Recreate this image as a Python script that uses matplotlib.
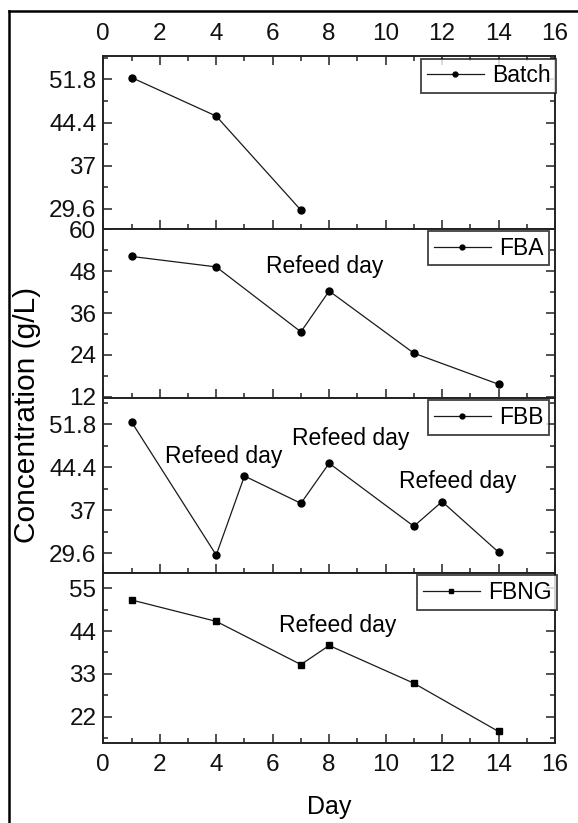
import matplotlib
matplotlib.use('Agg')
import matplotlib.pyplot as plt
from matplotlib.lines import Line2D
from matplotlib.ticker import MultipleLocator, FixedLocator

plt.rcParams['font.family'] = ['Liberation Sans', 'DejaVu Sans']

# Концентрация по дням для каждого режима
days_batch = [1, 4, 7]
conc_batch = [52.1, 45.5, 29.4]

days_fba = [1, 4, 7, 8, 11, 14]
conc_fba = [52.2, 49.2, 30.6, 42.3, 24.5, 15.6]

days_fbb = [1, 4, 5, 7, 8, 11, 12, 14]
conc_fbb = [52.2, 29.3, 42.9, 38.2, 45.1, 34.25, 38.5, 29.8]

days_fbng = [1, 4, 7, 8, 11, 14]
conc_fbng = [52.0, 46.5, 35.4, 40.3, 30.6, 18.2]

# Деления оси Y для каждой панели
yticks_batch = [29.6, 37, 44.4, 51.8]
yticks_fba = [12, 24, 36, 48, 60]
yticks_fbb = [29.6, 37, 44.4, 51.8]
yticks_fbng = [22, 33, 44, 55]

labels = ['Batch', 'FBA', 'FBB', 'FBNG']

# Подписи дней дозагрузки (день, концентрация)
refeed_fba = [(7.84, 49.2)]
refeed_fbb = [(4.25, 46.2), (8.76, 49.4), (12.55, 41.9)]
refeed_fbng = [(8.3, 45.5)]

W, H = 578, 823
FS = 16.5      # подписи и легенда
FS_TICK = 17.5


def px_to_fig(x0, y_top, x1, y_bot):
    """Перевод пикселей в доли фигуры для add_axes"""
    return [x0 / W, 1 - y_bot / H, (x1 - x0) / W, (y_bot - y_top) / H]


def style_axis(ax, yticks, ylim, top_labels=False):
    ax.set_xlim(0, 16)
    ax.set_ylim(*ylim)
    ax.xaxis.set_major_locator(MultipleLocator(2))
    ax.xaxis.set_minor_locator(MultipleLocator(1))
    ax.yaxis.set_major_locator(FixedLocator(yticks))
    step = (yticks[1] - yticks[0]) / 2
    minors = [yticks[0] + step * k for k in range(-4, 2 * len(yticks) + 4)]
    ax.yaxis.set_minor_locator(FixedLocator(minors))
    ax.tick_params(which='both', direction='in', color='#222222', width=1.1,
                   left=True, right=True, bottom=True, top=top_labels,
                   labelbottom=False, labeltop=top_labels, labelsize=FS_TICK,
                   labelcolor='#111111')
    ax.tick_params(axis='y', pad=5)
    ax.tick_params(axis='x', pad=8)
    ax.tick_params(which='major', length=6.5)
    ax.tick_params(which='minor', length=3.5)
    ax.set_yticklabels([('%g' % t) for t in yticks])
    for s in ax.spines.values():
        s.set_linewidth(1.4)
        s.set_color('#222222')


def draw_series(ax, days, conc, label, marker='o', right=1.0):
    ax.plot(days, conc, '-', color='#1a1a1a', lw=0.9, marker=marker,
            ms=5 if marker == 'o' else 4.6, mfc='black', mec='black',
            label=label)
    leg = ax.legend(loc='upper right', bbox_to_anchor=(right, 0.985),
                    fontsize=FS, frameon=True, fancybox=False,
                    handlelength=2.5, handletextpad=0.35, borderpad=0.25,
                    borderaxespad=0.0, markerscale=0.7)
    leg.get_frame().set_edgecolor('#111111')
    leg.get_frame().set_linewidth(1.3)
    return leg


def main():
    fig = plt.figure(figsize=(W / 100, H / 100), dpi=100)

    edges = [56, 228.5, 397.5, 572.5, 743]
    x0, x1 = 103.3, 555
    axes = [fig.add_axes(px_to_fig(x0, edges[i], x1, edges[i + 1])) for i in range(4)]

    ax1, ax2, ax3, ax4 = axes

    draw_series(ax1, days_batch, conc_batch, labels[0], right=1.003)
    style_axis(ax1, yticks_batch, (26.26, 55.79), top_labels=True)

    draw_series(ax2, days_fba, conc_fba, labels[1], right=0.987)
    style_axis(ax2, yticks_fba, (11.8, 60.2))
    for d, c in refeed_fba:
        ax2.text(d, c, 'Refeed day', ha='center', va='center', fontsize=FS)

    draw_series(ax3, days_fbb, conc_fbb, labels[2], right=0.987)
    style_axis(ax3, yticks_fbb, (26.3, 56.41))
    for d, c in refeed_fbb:
        ax3.text(d, c, 'Refeed day', ha='center', va='center', fontsize=FS)

    draw_series(ax4, days_fbng, conc_fbng, labels[3], marker='s', right=1.005)
    style_axis(ax4, yticks_fbng, (15.24, 59.06))
    ax4.tick_params(labelbottom=True)
    for d, c in refeed_fbng:
        ax4.text(d, c, 'Refeed day', ha='center', va='center', fontsize=FS)

    fig.text((x0 + x1) / 2 / W, 1 - 807 / H, 'Day', ha='center', va='center',
             fontsize=18)
    fig.text(27 / W, 1 - 415 / H, 'Concentration (g/L)', rotation=90,
             ha='center', va='center', fontsize=21.5)

    # Внешняя рамка (видны только верх и левый край)
    fig.add_artist(Line2D([9 / W, 9 / W], [1 - 11 / H, 0], color='black', lw=1.8,
                          transform=fig.transFigure))
    fig.add_artist(Line2D([9 / W, 1], [1 - 11 / H, 1 - 11 / H], color='black', lw=1.8,
                          transform=fig.transFigure))

    fig.savefig('out.png', dpi=100)


if __name__ == "__main__":
    main()
